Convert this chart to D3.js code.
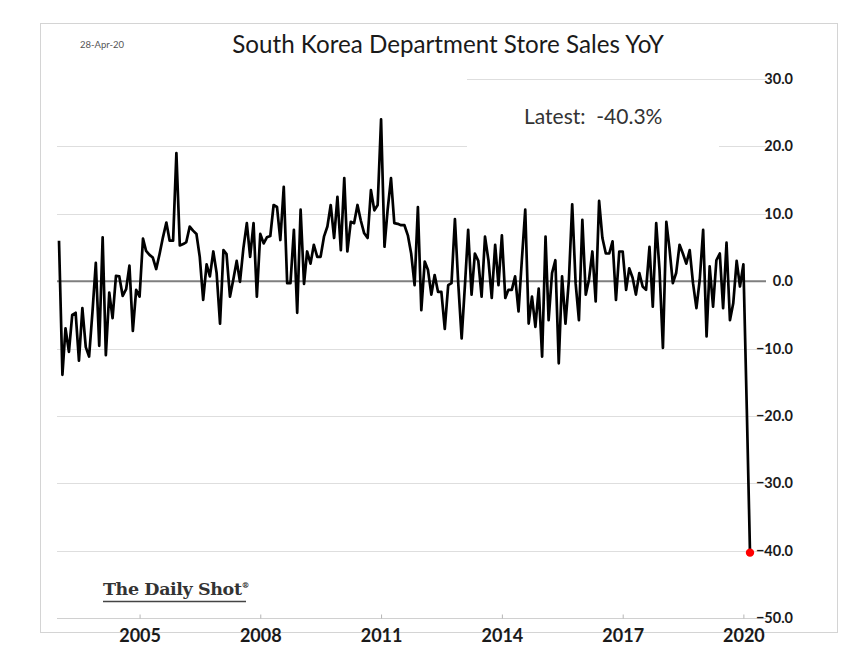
<!DOCTYPE html>
<html>
<head>
<meta charset="utf-8">
<script src="https://cdn.jsdelivr.net/npm/d3@7"></script>
<style>
  html, body { margin: 0; padding: 0; background: #ffffff; }
  svg { display: block; }
</style>
</head>
<body>
<script>
// ---- Data (monthly YoY %, Jan 2003 .. Mar 2020) ----
const startMonth = "2003-01";
const values = [
  6.0, -13.9, -7.0, -10.5, -5.0, -4.7, -11.8, -4.0, -9.8, -11.2, -4.5, 2.7,
  -9.6, 6.5, -11.0, -1.7, -5.5, 0.8, 0.7, -2.2, -1.2, 2.3, -7.4, -1.3,
  -2.3, 6.3, 4.5, 3.9, 3.5, 1.8, 4.0, 6.5, 8.7, 6.0, 6.0, 19.0,
  5.3, 5.5, 5.8, 8.1, 7.5, 7.0, 3.6, -2.8, 2.5, 0.7, 4.4, 1.2,
  -6.3, 4.6, 4.0, -2.3, 0.2, 3.0, -0.1, 4.9, 8.6, 3.6, 8.6, -2.3,
  7.0, 5.6, 6.5, 6.7, 11.3, 11.0, 6.1, 14.0, -0.3, -0.3, 7.6, -4.7,
  10.6, -0.4, 4.4, 2.6, 5.4, 3.6, 3.6, 6.6, 8.1, 11.3, 6.4, 12.5,
  4.6, 15.3, 4.4, 8.8, 8.6, 11.3, 9.0, 7.1, 6.4, 13.5, 10.5, 11.3,
  24.0, 5.1, 10.5, 15.3, 8.6, 8.5, 8.3, 8.3, 6.8, 4.1, -0.6, 11.0,
  -4.3, 2.9, 1.7, -2.0, 0.9, -1.6, -1.6, -7.1, -0.6, -0.3, 9.2, -0.3,
  -8.5, -0.3, 7.6, -2.0, 4.1, 3.0, -2.3, 6.6, 3.1, -2.5, 5.4, -0.6,
  6.8, -2.5, -1.3, -1.3, 0.7, -4.5, 3.1, 10.6, -6.3, -2.3, -6.8, -1.1,
  -11.2, 6.6, -5.8, 1.2, 3.1, -12.2, 0.7, -6.3, 0.2, 11.4, -0.3, -5.8,
  9.1, -2.0, 0.2, 4.4, -3.0, 11.9, 6.4, 4.1, 4.1, 5.9, -2.8, 4.4,
  4.4, -1.3, 1.9, 0.5, -2.0, 1.2, -0.8, -1.3, 5.1, -3.8, 8.6, 1.7,
  -9.9, 8.8, 4.9, -0.3, 1.2, 5.4, 4.1, 2.6, 4.6, -0.3, -4.0, 0.2,
  7.6, -8.2, 2.2, -3.8, 3.1, 4.1, -4.0, 5.7, -5.8, -3.3, 3.0, -0.8,
  2.5, -19.0, -40.3
];
const yTicks = [30, 20, 10, 0, -10, -20, -30, -40, -50];
const xTickYears = [2005, 2008, 2011, 2014, 2017, 2020];
const titleText = "South Korea Department Store Sales YoY";
const dateText = "28-Apr-20";
const latestText = "Latest:  -40.3%";
const brandText = "The Daily Shot";

// ---- Build dated series ----
const parseMonth = d3.timeParse("%Y-%m");
const t0 = parseMonth(startMonth);
const series = values.map((v, i) => ({ date: d3.timeMonth.offset(t0, i), value: v }));
const last = series[series.length - 1];

const W = 854, H = 672;
const svg = d3.select("body").append("svg").attr("width", W).attr("height", H);

const FONT = "Lato, 'Open Sans', 'Liberation Sans', sans-serif";

// frame
svg.append("rect").attr("x", 40.5).attr("y", 23.5).attr("width", 797).attr("height", 609)
  .attr("fill", "#fff").attr("stroke", "#d4d4d4").attr("stroke-width", 1);

const plot = { left: 59, right: 750, top: 79, bottom: 618, gridLeft: 57, gridRight: 766 };

const x = d3.scaleTime().domain([series[0].date, last.date]).range([plot.left, plot.right]);
const y = d3.scaleLinear().domain([-50, 30]).range([plot.bottom, plot.top]);

// gridlines
svg.append("g").selectAll("line").data(yTicks.filter(d => d !== 0 && d !== -50)).join("line")
  .attr("x1", plot.gridLeft).attr("x2", plot.gridRight)
  .attr("y1", d => Math.round(y(d)) + 0.5).attr("y2", d => Math.round(y(d)) + 0.5)
  .attr("stroke", "#dedede").attr("stroke-width", 1);

// white boxes covering gridlines behind title and latest label
svg.append("rect").attr("x", plot.gridLeft).attr("y", 66).attr("width", 410).attr("height", 22).attr("fill", "#fff");
svg.append("rect").attr("x", 467).attr("y", 100).attr("width", 252).attr("height", 55).attr("fill", "#fff");

// bottom axis (time)
const xAxis = d3.axisBottom(x)
  .tickValues(xTickYears.map(yr => new Date(yr, 0, 1)))
  .tickFormat(d3.timeFormat("%Y"))
  .tickSizeInner(-4).tickSizeOuter(0).tickPadding(11);
const gx = svg.append("g").attr("transform", `translate(0,${Math.round(y(-50)) + 0.5})`).call(xAxis);
gx.select(".domain").remove();
gx.insert("line", ":first-child").attr("x1", plot.gridLeft).attr("x2", plot.gridRight)
  .attr("stroke", "#d0d0d0").attr("stroke-width", 1);
gx.selectAll(".tick line").attr("stroke", "#b5b5b5");
gx.selectAll(".tick text")
  .attr("font-family", FONT).attr("font-weight", "bold").attr("font-size", 18).attr("fill", "#1a1a1a");

// y tick labels (right)
svg.append("g").selectAll("text").data(yTicks).join("text")
  .attr("x", 793).attr("y", d => y(d) + 5)
  .attr("text-anchor", "end")
  .attr("font-family", FONT)
  .attr("font-weight", "bold").attr("font-size", 14.5).attr("fill", "#1a1a1a")
  .text(d => d3.format(".1f")(d));

// zero line
svg.append("line").attr("x1", plot.gridLeft).attr("x2", plot.gridRight)
  .attr("y1", y(0)).attr("y2", y(0))
  .attr("stroke", "#7f7f7f").attr("stroke-width", 2);

// series line
svg.append("path").datum(series)
  .attr("d", d3.line().x(d => x(d.date)).y(d => y(d.value)))
  .attr("fill", "none").attr("stroke", "#000").attr("stroke-width", 2.7)
  .attr("stroke-linejoin", "round");

// latest point
svg.append("circle").attr("cx", x(last.date)).attr("cy", y(last.value)).attr("r", 4.2).attr("fill", "#ff0000");

// texts
svg.append("text").attr("x", 448).attr("y", 53).attr("text-anchor", "middle")
  .attr("font-family", FONT).attr("font-size", 24.2)
  .attr("fill", "#1a1a1a").text(titleText);
svg.append("text").attr("x", 80).attr("y", 48)
  .attr("font-family", FONT).attr("font-size", 9.5)
  .attr("fill", "#555").text(dateText);
svg.append("text").attr("x", 524).attr("y", 124)
  .attr("font-family", FONT).attr("font-size", 21)
  .attr("fill", "#333").style("white-space", "pre").text(latestText);

// brand
const brand = svg.append("text").attr("x", 103).attr("y", 595)
  .attr("font-family", "'DejaVu Serif', 'Liberation Serif', serif").attr("font-weight", "bold")
  .attr("font-size", 17.5).attr("fill", "#333").attr("letter-spacing", -0.4);
brand.append("tspan").text(brandText);
brand.append("tspan").attr("font-size", 8).attr("dy", -7).text("®");
svg.append("line").attr("x1", 103).attr("x2", 246).attr("y1", 601.5).attr("y2", 601.5)
  .attr("stroke", "#444").attr("stroke-width", 1.6);
</script>
</body>
</html>
